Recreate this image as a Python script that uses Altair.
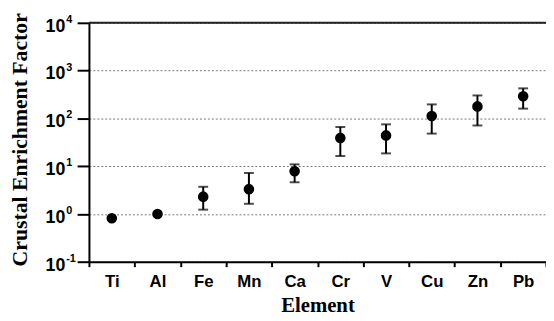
import altair as alt
import pandas as pd

elements = ["Ti", "Al", "Fe", "Mn", "Ca", "Cr", "V", "Cu", "Zn", "Pb"]
ef_mean = [0.81, 1.0, 2.3, 3.3, 7.8, 39, 44, 112, 178, 290]
ef_low = [None, None, 1.23, 1.63, 4.6, 16.3, 18.5, 48, 71, 160]
ef_high = [None, None, 3.7, 7.2, 10.9, 66, 75, 196, 302, 425]
y_ticks = [0.1, 1, 10, 100, 1000, 10000]
y_exponents = ["-1", "0", "1", "2", "3", "4"]

df = pd.DataFrame({"element": elements, "ef": ef_mean, "low": ef_low, "high": ef_high})
err = df.dropna()
ticks_df = pd.DataFrame({"v": y_ticks, "e": y_exponents})

W, H = 463, 242
yscale = alt.Scale(type="log", domain=[0.1, 10000], nice=False)
xscale = alt.Scale(paddingInner=0, paddingOuter=0)

yaxis = alt.Axis(values=y_ticks, labels=False, grid=True, gridDash=[2, 2],
                 gridColor="#777777", gridWidth=1, domainColor="black", domainWidth=2,
                 tickColor="black", tickWidth=2, tickSize=12,
                 title="Crustal Enrichment Factor",
                 titleFont="Liberation Serif", titleFontWeight="bold", titleFontSize=22,
                 titleColor="black", titleAngle=270, titleX=-70, titleY=118,
                 titleAlign="center", titleBaseline="middle")

xaxis = alt.Axis(tickBand="extent", labelAngle=0, domainColor="black", domainWidth=2,
                 tickColor="black", tickWidth=2, tickSize=5, labelPadding=7,
                 labelFont="Liberation Sans", labelFontWeight="bold", labelFontSize=17,
                 labelColor="black", title="Element", titleFont="Liberation Serif",
                 titleFontWeight="bold", titleFontSize=21, titleColor="black",
                 titleX=W / 2, titleY=44, titleAlign="center", titleBaseline="middle")

X = alt.X("element:N", sort=elements, scale=xscale, axis=xaxis)

points = alt.Chart(df).mark_circle(size=115, color="black", opacity=1).encode(
    x=X, y=alt.Y("ef:Q", scale=yscale, axis=yaxis))

bars = alt.Chart(err).mark_rule(color="black", strokeWidth=2).encode(
    x=X, y=alt.Y("low:Q", scale=yscale, axis=yaxis), y2="high:Q")

cap_lo = alt.Chart(err).mark_tick(color="black", thickness=2, size=10, orient="horizontal").encode(
    x=X, y=alt.Y("low:Q", scale=yscale, axis=yaxis))
cap_hi = alt.Chart(err).mark_tick(color="black", thickness=2, size=10, orient="horizontal").encode(
    x=X, y=alt.Y("high:Q", scale=yscale, axis=yaxis))

top_border = alt.Chart(ticks_df).transform_filter("datum.v == 10000").mark_rule(
    color="#222222", strokeWidth=2).encode(y=alt.Y("v:Q", scale=yscale, axis=yaxis))

tens = alt.Chart(ticks_df).mark_text(
    text="10", align="right", baseline="middle", dy=4, font="Liberation Sans",
    fontWeight="bold", fontSize=18, color="black").encode(
    x=alt.value(-24), y=alt.Y("v:Q", scale=yscale, axis=yaxis))

exps = alt.Chart(ticks_df).mark_text(
    align="left", baseline="middle", dy=-3, font="Liberation Sans",
    fontWeight="bold", fontSize=11, color="black").encode(
    x=alt.value(-23), y=alt.Y("v:Q", scale=yscale, axis=yaxis), text="e:N")

chart = alt.layer(bars, cap_lo, cap_hi, points, top_border, tens, exps).properties(
    width=W, height=H, autosize=alt.AutoSizeParams(type="none"),
    padding={"left": 82, "top": 13, "right": 0, "bottom": 55},
).configure_view(stroke="#777777", strokeWidth=1).configure(background="white")

chart.save("out.html", embed_options={"renderer": "svg", "actions": False})
